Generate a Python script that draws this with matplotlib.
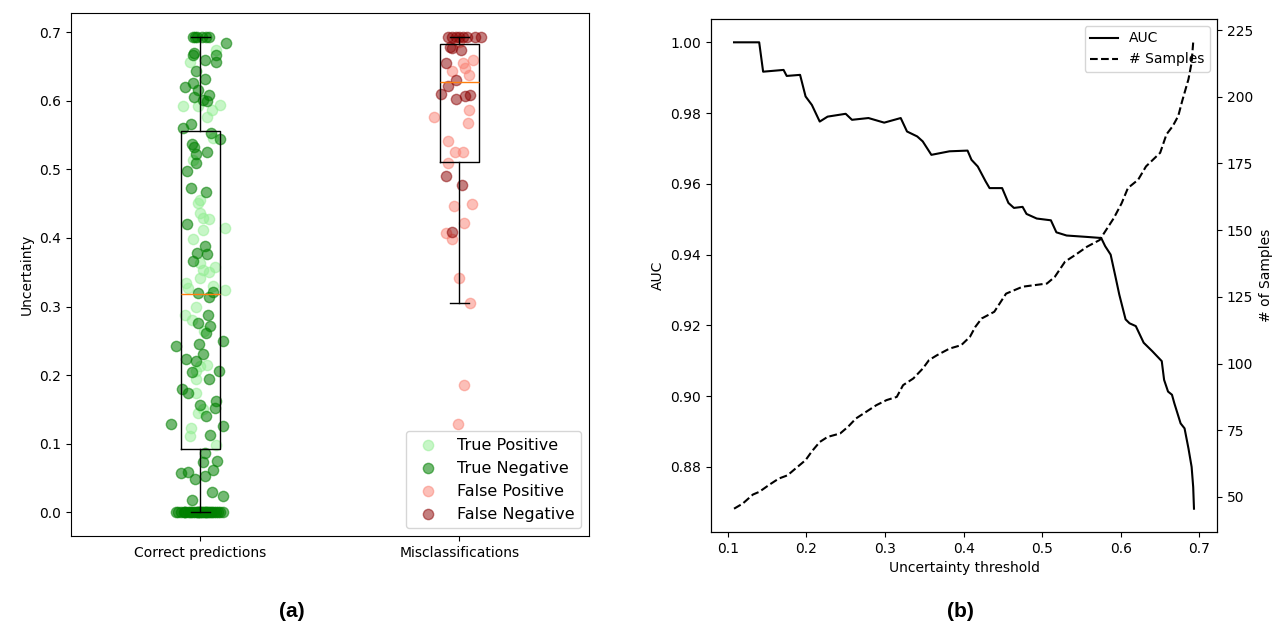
import matplotlib
matplotlib.use("Agg")
import matplotlib.pyplot as plt
import numpy as np

# ---- panel (a): uncertainty of each sample ----
# (uncertainty value, horizontal jitter offset from the box centre)
tp_unc = [0.657, 0.674, 0.592, 0.594, 0.587, 0.577, 0.593, 0.546, 0.514, 0.455,
          0.451, 0.436, 0.429, 0.428, 0.412, 0.414, 0.398, 0.363, 0.353, 0.351,
          0.357, 0.341, 0.334, 0.327, 0.324, 0.330, 0.288, 0.299, 0.281, 0.264,
          0.213, 0.214, 0.206, 0.194, 0.174, 0.150, 0.145, 0.123, 0.111, 0.098]
tp_jit = [-0.040, 0.059, -0.067, 0.075, 0.045, 0.024, -0.008, 0.048, -0.030, 0.000,
          -0.008, -0.003, 0.011, 0.032, 0.008, 0.096, -0.027, 0.000, 0.008, 0.032,
          0.056, -0.003, -0.056, -0.048, 0.093, 0.048, -0.061, -0.016, -0.032, 0.013,
          0.000, 0.024, -0.016, -0.016, -0.016, 0.008, -0.008, -0.035, -0.040, 0.061]

tn_unc = [0.693, 0.693, 0.693, 0.693, 0.693, 0.693, 0.684, 0.669, 0.667, 0.667,
          0.656, 0.660, 0.644, 0.632, 0.620, 0.626, 0.616, 0.608, 0.606, 0.601,
          0.599, 0.561, 0.566, 0.553, 0.544, 0.537, 0.533, 0.523, 0.526, 0.510,
          0.498, 0.473, 0.467, 0.420, 0.388, 0.378, 0.376, 0.366, 0.319, 0.321,
          0.314, 0.288, 0.276, 0.271, 0.261, 0.242, 0.246, 0.250, 0.231, 0.224,
          0.220, 0.204, 0.206, 0.194, 0.180, 0.174, 0.162, 0.156, 0.152, 0.140,
          0.128, 0.126, 0.112, 0.087, 0.073, 0.074, 0.058, 0.057, 0.062, 0.053,
          0.048, 0.029, 0.023, 0.018,
          0.0, 0.0, 0.0, 0.0, 0.0, 0.0, 0.0, 0.0, 0.0, 0.0,
          0.0, 0.0, 0.0, 0.0, 0.0, 0.0, 0.0, 0.0, 0.0, 0.0,
          0.0, 0.0, 0.0, 0.0, 0.0, 0.0, 0.0, 0.0, 0.0, 0.0]
tn_jit = [-0.030, -0.012, 0.005, 0.020, 0.032, -0.020, 0.100, -0.024, -0.030, 0.059,
          0.059, 0.016, -0.016, 0.016, -0.059, -0.030, -0.008, 0.032, -0.024, 0.008,
          0.024, -0.069, -0.035, 0.040, 0.075, -0.032, -0.024, -0.019, 0.027, -0.016,
          -0.053, -0.035, 0.021, -0.053, 0.016, -0.013, 0.024, -0.029, -0.008, 0.048,
          0.032, 0.029, -0.008, 0.035, 0.021, -0.093, -0.005, 0.088, 0.008, -0.056,
          -0.019, -0.032, 0.072, 0.032, -0.072, -0.048, 0.059, 0.000, 0.056, 0.021,
          -0.115, 0.085, 0.035, 0.016, 0.008, 0.064, -0.048, -0.075, 0.048, 0.016,
          -0.021, 0.045, 0.085, -0.032,
          -0.095, -0.085, -0.075, -0.065, -0.058, -0.050, -0.042, -0.035, -0.028, -0.020,
          -0.014, -0.008, -0.002, 0.004, 0.010, 0.016, 0.022, 0.028, 0.034, 0.040,
          0.046, 0.052, 0.060, 0.068, 0.076, 0.085, -0.060, -0.010, 0.020, 0.000]

fp_unc = [0.660, 0.655, 0.643, 0.648, 0.638, 0.686, 0.577, 0.587, 0.568, 0.541,
          0.526, 0.526, 0.510, 0.447, 0.449, 0.422, 0.407, 0.398, 0.341, 0.305,
          0.186, 0.128]
fp_jit = [0.053, 0.013, -0.027, 0.021, 0.037, 0.000, -0.099, 0.037, 0.033, -0.046,
          -0.019, 0.013, -0.043, -0.022, 0.048, 0.016, -0.051, -0.027, 0.000, 0.041,
          0.016, -0.006]

fn_unc = [0.693, 0.693, 0.693, 0.693, 0.693, 0.693, 0.693, 0.693, 0.655, 0.677,
          0.674, 0.679, 0.630, 0.621, 0.610, 0.602, 0.607, 0.608, 0.490, 0.477,
          0.409]
fn_jit = [-0.045, -0.030, -0.015, 0.000, 0.015, 0.030, 0.060, 0.085, -0.051, -0.027,
          0.005, -0.035, -0.014, -0.043, -0.070, -0.014, 0.021, 0.040, -0.051, 0.008,
          -0.030]

groups = ["Correct predictions", "Misclassifications"]
box_whislo = [0.0, 0.305]
box_q1 = [0.092, 0.511]
box_med = [0.318, 0.627]
box_q3 = [0.556, 0.683]
box_whishi = [0.693, 0.693]

# ---- panel (b): AUC and sample count vs. uncertainty threshold ----
auc_thr = [0.108, 0.140, 0.145, 0.171, 0.175, 0.192, 0.199, 0.207, 0.217, 0.227,
           0.250, 0.258, 0.279, 0.299, 0.320, 0.328, 0.341, 0.348, 0.359, 0.382,
           0.405, 0.410, 0.418, 0.428, 0.433, 0.449, 0.457, 0.464, 0.475, 0.480,
           0.493, 0.511, 0.518, 0.531, 0.557, 0.575, 0.580, 0.587, 0.593, 0.598,
           0.606, 0.611, 0.619, 0.629, 0.640, 0.652, 0.655, 0.660, 0.665, 0.668,
           0.676, 0.681, 0.686, 0.690, 0.692, 0.693]
auc_val = [1.000, 1.000, 0.9917, 0.9922, 0.9905, 0.9908, 0.9847, 0.9823, 0.9776, 0.9790,
           0.9798, 0.9781, 0.9786, 0.9773, 0.9786, 0.9748, 0.9734, 0.9720, 0.9682, 0.9692,
           0.9694, 0.9668, 0.9649, 0.9607, 0.9588, 0.9588, 0.9546, 0.9532, 0.9535, 0.9515,
           0.9502, 0.9497, 0.9463, 0.9454, 0.9450, 0.9447, 0.9424, 0.9400, 0.9339, 0.9287,
           0.9217, 0.9206, 0.9198, 0.9151, 0.9127, 0.9099, 0.9046, 0.9013, 0.9004, 0.8980,
           0.8923, 0.8909, 0.8852, 0.8800, 0.8743, 0.8682]

smp_thr = [0.108, 0.119, 0.132, 0.140, 0.153, 0.165, 0.176, 0.186, 0.199, 0.207,
           0.217, 0.227, 0.243, 0.253, 0.263, 0.276, 0.289, 0.302, 0.315, 0.323,
           0.336, 0.348, 0.356, 0.366, 0.382, 0.397, 0.408, 0.415, 0.423, 0.439,
           0.454, 0.475, 0.506, 0.516, 0.529, 0.542, 0.557, 0.573, 0.580, 0.591,
           0.601, 0.609, 0.622, 0.632, 0.650, 0.658, 0.666, 0.673, 0.678, 0.686,
           0.690, 0.692]
smp_val = [45.6, 47.5, 50.9, 51.9, 54.6, 56.9, 58.1, 60.6, 63.8, 67.1,
           70.6, 72.5, 73.8, 76.3, 79.4, 81.9, 84.4, 86.3, 87.5, 91.9,
           94.4, 98.1, 101.3, 103.1, 105.6, 106.9, 110.0, 113.8, 116.9, 119.4,
           126.2, 128.8, 130.0, 132.5, 138.2, 140.7, 143.8, 146.3, 149.5, 154.5,
           160.1, 165.8, 168.9, 173.9, 179.0, 185.9, 189.0, 192.8, 198.4, 206.6,
           212.8, 220.4]

fig = plt.figure(figsize=(12.77, 6.27), dpi=100)

# Left panel: jittered scatter + box plot
ax = fig.add_axes([0.0556, 0.1451, 0.4056, 0.8341])
ax.scatter(1 + np.array(tp_jit), tp_unc, s=55, color="lightgreen", alpha=0.5, label="True Positive")
ax.scatter(1 + np.array(tn_jit), tn_unc, s=55, color="green", alpha=0.55, label="True Negative")
ax.scatter(2 + np.array(fp_jit), fp_unc, s=55, color="salmon", alpha=0.5, label="False Positive")
ax.scatter(2 + np.array(fn_jit), fn_unc, s=55, color="darkred", alpha=0.5, label="False Negative")

stats = []
for i in range(len(groups)):
    stats.append(dict(label=groups[i], whislo=box_whislo[i], q1=box_q1[i], med=box_med[i],
                      q3=box_q3[i], whishi=box_whishi[i], fliers=[]))
ax.bxp(stats, positions=[1, 2], widths=0.15, showfliers=False,
       medianprops=dict(color="C1"))
ax.set_xlim(0.5, 2.5)
ax.set_ylim(-0.0347, 0.728)
ax.set_ylabel("Uncertainty")
ax.legend(loc="lower right", fontsize=11.5)

# Right panel: AUC with sample count on a twin axis
bx = fig.add_axes([0.5568, 0.1515, 0.3962, 0.8182])
l1, = bx.plot(auc_thr, auc_val, "k-", label="AUC")
bx.set_xlabel("Uncertainty threshold")
bx.set_ylabel("AUC")
bx.set_yticks([0.88, 0.90, 0.92, 0.94, 0.96, 0.98, 1.00])
tx = bx.twinx()
l2, = tx.plot(smp_thr, smp_val, "k--", label="# Samples")
tx.set_ylabel("# of Samples")
tx.set_yticks([50, 75, 100, 125, 150, 175, 200, 225])
bx.legend([l1, l2], ["AUC", "# Samples"], loc="upper right")

fig.text(0.2286, 0.016, "(a)", ha="center", fontsize=15, fontweight="bold", family="Liberation Sans")
fig.text(0.7518, 0.016, "(b)", ha="center", fontsize=15, fontweight="bold", family="Liberation Sans")

fig.savefig("out.png", dpi=100)
